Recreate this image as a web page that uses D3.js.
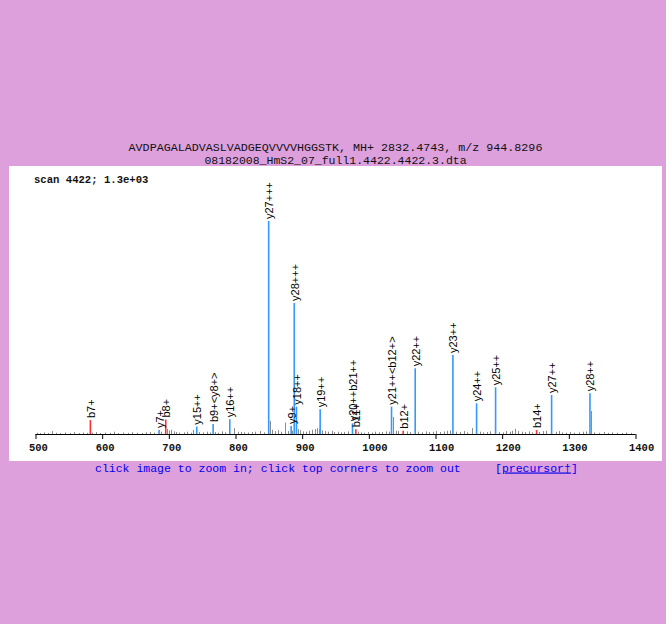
<!DOCTYPE html>
<html>
<head>
<meta charset="utf-8">
<script src="https://cdn.jsdelivr.net/npm/d3@7"></script>
<style>
body { margin: 0; background: #dda0dd; }
svg { display: block; }
</style>
</head>
<body>
<div id="chart"></div>
<script>
var title1 = "AVDPAGALADVASLVADGEQVVVVHGGSTK, MH+ 2832.4743, m/z 944.8296";
var title2 = "08182008_HmS2_07_full1.4422.4422.3.dta";
var scanText = "scan 4422; 1.3e+03";
var xTicks = [500, 600, 700, 800, 900, 1000, 1100, 1200, 1300, 1400];

// matched fragment ions
var ionMz = [582.29, 685.36, 695.37, 741.88, 766.41, 791.42, 849.79, 883.50, 888.13, 891.47, 926.99,
             975.49, 980.50, 1034.04, 1051.53, 1069.56, 1126.10, 1161.62, 1190.13, 1251.65, 1274.17, 1331.69];
var ionInt = [85, 24, 88, 45, 61, 90, 1300, 49, 800, 167, 151,
              65, 29, 167, 20, 401, 482, 187, 285, 24, 238, 248];
var ionLabel = ["b7+", "y7+", "b8+", "y15++", "b9+<y8+>", "y16++", "y27+++", "y9+", "y28+++", "y18++", "y19++",
                "y20++b21++", "b11+", "y21++<b12+>", "b12+", "y22++", "y23++", "y24++", "y25++", "b14+", "y27++", "y28++"];
var ionKind = ["b", "y", "b", "y", "y", "y", "y", "y", "y", "y", "y",
               "y", "b", "y", "b", "y", "y", "y", "y", "b", "y", "y"];

// unmatched peaks
var noiseMz = [502, 507, 513, 518, 524, 531, 537, 544, 552, 558, 565, 571, 577, 585, 590, 597, 604, 611, 618, 624,
               631, 638, 645, 652, 659, 665, 672, 678, 688, 697, 700, 703, 707, 711, 716, 722, 727, 733, 736, 745,
               751, 757, 762, 769, 774, 779, 785, 797, 803, 808, 813, 819, 824, 830, 836, 842, 851, 855, 859, 863,
               868, 874, 878, 885, 893, 897, 901, 906, 910, 915, 919, 922, 925, 930, 934, 939, 944, 948, 953, 958,
               963, 968, 984, 988, 993, 998, 1004, 1009, 1015, 1020, 1025, 1030, 1036, 1040, 1044, 1057, 1062, 1074, 1079, 1085,
               1091, 1096, 1101, 1106, 1112, 1117, 1122, 1131, 1137, 1142, 1147, 1154, 1166, 1171, 1177, 1182, 1195, 1201, 1206, 1211,
               1215, 1219, 1224, 1229, 1234, 1240, 1245, 1256, 1261, 1266, 1280, 1285, 1290, 1296, 1302, 1308, 1315, 1321, 1326, 1333,
               1338, 1345, 1352, 1358, 1365, 1372, 1379, 1386, 1393];
var noiseInt = [8, 6, 10, 6, 18, 8, 6, 10, 7, 12, 6, 9, 7, 8, 12, 6, 9, 7, 14, 6,
                9, 7, 11, 8, 6, 10, 12, 8, 14, 30, 22, 26, 16, 12, 9, 10, 14, 8, 24, 12,
                10, 14, 9, 12, 8, 16, 10, 36, 14, 12, 10, 9, 12, 14, 18, 10, 80, 26, 18, 24,
                14, 70, 18, 20, 30, 24, 16, 14, 20, 26, 30, 36, 28, 22, 18, 14, 20, 12, 14, 10,
                12, 16, 14, 10, 8, 12, 9, 14, 10, 12, 16, 14, 104, 20, 18, 16, 12, 14, 10, 16,
                12, 14, 18, 12, 16, 20, 22, 14, 12, 18, 10, 36, 14, 10, 12, 16, 12, 10, 18, 14,
                20, 32, 18, 14, 12, 16, 10, 12, 18, 20, 14, 18, 10, 8, 12, 8, 10, 14, 16, 140,
                10, 8, 12, 7, 10, 8, 6, 9, 7];

var width = 666, height = 624;
var svg = d3.select("#chart").append("svg")
    .attr("width", width)
    .attr("height", height);

svg.append("rect")
    .attr("width", width).attr("height", height)
    .attr("fill", "#dda0dd");

svg.append("rect")
    .attr("x", 9).attr("y", 166)
    .attr("width", 653).attr("height", 295)
    .attr("fill", "#ffffff");

var x = d3.scaleLinear().domain([500, 1400]).range([35.5, 635.5]);
var y = d3.scaleLinear().domain([0, 1300]).range([434, 221]);

// titles
svg.append("text")
    .attr("x", 335.5).attr("y", 150.5)
    .attr("text-anchor", "middle")
    .attr("font-family", "Liberation Mono, monospace")
    .attr("font-size", "11.7px")
    .attr("fill", "#111")
    .text(title1);
svg.append("text")
    .attr("x", 335.5).attr("y", 164)
    .attr("text-anchor", "middle")
    .attr("font-family", "Liberation Mono, monospace")
    .attr("font-size", "11.5px")
    .attr("fill", "#111")
    .text(title2);

svg.append("text")
    .attr("x", 34).attr("y", 182.5)
    .attr("font-family", "Liberation Mono, monospace")
    .attr("font-weight", "bold")
    .attr("font-size", "10.6px")
    .attr("fill", "#111")
    .text(scanText);

// noise peaks
svg.selectAll("line.noise")
    .data(noiseMz)
    .enter()
    .append("line")
    .attr("class", "noise")
    .attr("x1", function(d) { return Math.round(x(d)) + 0.5; })
    .attr("x2", function(d) { return Math.round(x(d)) + 0.5; })
    .attr("y1", y(0))
    .attr("y2", function(d, i) { return y(noiseInt[i]); })
    .attr("stroke", "#8c8c8c")
    .attr("stroke-width", 1);

// matched peaks
function ionColor(k) {
    if (k === "b") {
        return "#ff3030";
    } else {
        return "#3399ff";
    }
}

svg.selectAll("line.ion")
    .data(ionMz)
    .enter()
    .append("line")
    .attr("class", "ion")
    .attr("x1", function(d) { return x(d); })
    .attr("x2", function(d) { return x(d); })
    .attr("y1", y(0))
    .attr("y2", function(d, i) { return y(ionInt[i]); })
    .attr("stroke", function(d, i) { return ionColor(ionKind[i]); })
    .attr("stroke-width", 1.6);

svg.selectAll("text.ionlabel")
    .data(ionMz)
    .enter()
    .append("text")
    .attr("class", "ionlabel")
    .attr("transform", function(d, i) {
        return "translate(" + (x(d) + 4.5) + "," + (y(ionInt[i]) - 2) + ") rotate(-90)";
    })
    .attr("font-family", "Liberation Sans, Arial, sans-serif")
    .attr("font-size", "11px")
    .attr("fill", "#000")
    .text(function(d, i) { return ionLabel[i]; });

// x axis
var axisG = svg.append("g").attr("transform", "translate(0,434)");
axisG.call(d3.axisBottom(x).tickValues(d3.range(500, 1401, 20)).tickSize(3).tickFormat(""));
axisG.call(d3.axisBottom(x).tickValues(xTicks).tickSize(5).tickFormat(d3.format("d")));
axisG.select(".domain").attr("stroke", "#000").attr("d", "M35.5,0.5H635.5");
axisG.selectAll("line").attr("stroke", "#000");
axisG.selectAll("text")
    .attr("text-anchor", "start")
    .attr("x", -7)
    .attr("y", 17)
    .attr("dy", 0)
    .attr("font-family", "Liberation Mono, monospace")
    .attr("font-weight", "bold")
    .attr("font-size", "10.5px")
    .attr("fill", "#111");

// footer links
var foot = svg.append("g")
    .attr("font-family", "Liberation Mono, monospace")
    .attr("font-size", "11.5px")
    .attr("fill", "#0000ee");
foot.append("text")
    .attr("x", 95).attr("y", 471.5)
    .text("click image to zoom in; click top corners to zoom out");
var pre = foot.append("text")
    .attr("x", 495).attr("y", 471.5);
pre.append("tspan").text("[");
pre.append("tspan").attr("text-decoration", "underline").text("precursor\u2020");
pre.append("tspan").text("]");
</script>
</body>
</html>
